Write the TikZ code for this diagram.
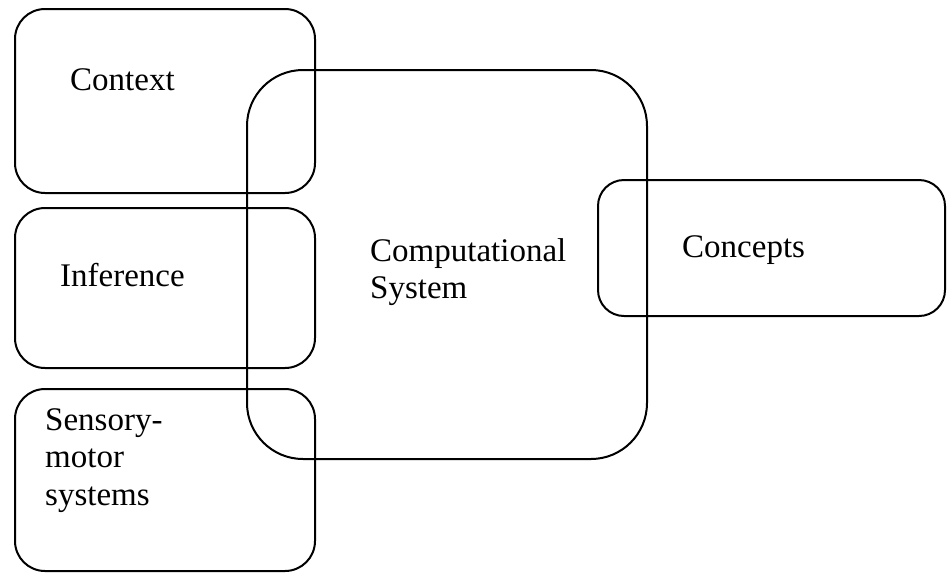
\documentclass[tikz,border=0pt]{standalone}
\usepackage{fontspec}
\setmainfont{Liberation Serif}
\begin{document}
\begin{tikzpicture}[x=1pt,y=-1pt,
  box/.style={draw=black, line width=2pt, rounded corners=30pt, inner sep=0pt, outer sep=0pt},
  bigbox/.style={box, rounded corners=56pt},
  label/.style={anchor=base west, inner sep=0pt, font=\fontsize{33}{37.5}\selectfont, align=left}]
\useasboundingbox (0,0) rectangle (947,574);
% left column boxes
\node[box, minimum width=300pt, minimum height=184pt] (context) at (165,101) {};
\node[box, minimum width=300pt, minimum height=160pt] (inference) at (165,288) {};
\node[box, minimum width=300pt, minimum height=182pt] (sensory) at (165,480) {};
% concepts box
\node[box, rounded corners=26pt, minimum width=347pt, minimum height=136pt] (concepts) at (771.5,248) {};
% computational system box
\node[bigbox, minimum width=400pt, minimum height=389pt] (comp) at (447,264.5) {};
% texts
\node[label] (contexttxt) at (70,90) {Context};
\node[label] (inferencetxt) at (60,286) {Inference};
\node[label, anchor=north west] (sensorytxt) at (45,408) {Sensory-\\motor\\systems};
\node[label, anchor=north west] (comptxt) at (370,238) {Computational\\System};
\node[label] (conceptstxt) at (682,257) {Concepts};
\end{tikzpicture}
\end{document}
